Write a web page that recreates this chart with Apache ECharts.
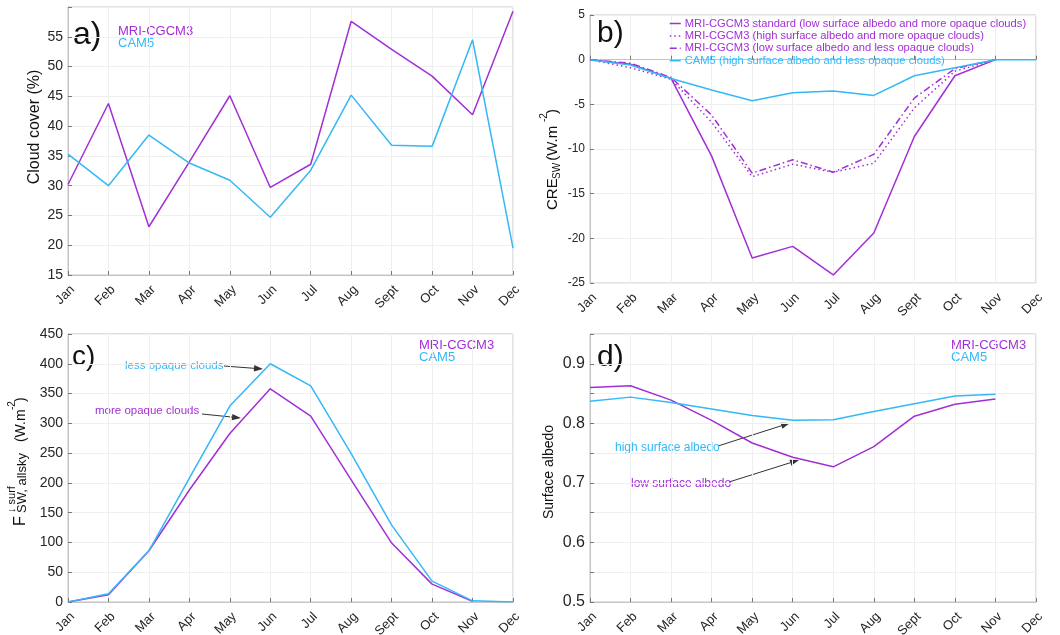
<!DOCTYPE html>
<html>
<head>
<meta charset="utf-8">
<script src="https://cdn.jsdelivr.net/npm/echarts@6/dist/echarts.min.js"></script>
<style>
html,body{margin:0;padding:0;background:#fff;}
#chart{width:1060px;height:635px;}
</style>
</head>
<body>
<div id="chart"></div>
<script>
const months = ['Jan','Feb','Mar','Apr','May','Jun','Jul','Aug','Sept','Oct','Nov','Dec'];

// a) Cloud cover (%)
const cloudMRI = [30.2, 43.8, 23.1, 34.0, 45.1, 29.7, 33.6, 57.6, 52.9, 48.4, 41.9, 59.3];
const cloudCAM = [35.3, 30.0, 38.5, 33.8, 30.9, 24.7, 32.6, 45.2, 36.8, 36.6, 54.5, 19.5];

// b) CRE_SW (W.m-2)
const creStd      = [0, -0.5, -2.1, -10.8, -22.2, -20.9, -24.1, -19.4, -8.6, -1.8, 0];
const creHighMore = [0, -0.9, -2.2, -7.0, -13.1, -11.7, -12.6, -11.6, -5.4, -1.3, 0];
const creLowLess  = [0, -0.4, -2.0, -6.2, -12.7, -11.2, -12.6, -10.6, -4.3, -1.0, 0];
const creCAM      = [0, -0.6, -2.1, -3.4, -4.6, -3.7, -3.5, -4.0, -1.8, -0.9, 0, 0];

// c) downward SW surface flux, all-sky (W.m-2)
const fluxMRI = [0, 12, 86, 188, 283, 358, 312, 205, 99, 30, 1];
const fluxCAM = [0, 14, 86, 208, 329, 400, 363, 249, 129, 35, 2, 0];

// d) Surface albedo
const albMRI = [0.860, 0.863, 0.839, 0.805, 0.767, 0.743, 0.727, 0.761, 0.812, 0.832, 0.841];
const albCAM = [0.837, 0.844, 0.835, 0.824, 0.813, 0.805, 0.806, 0.820, 0.833, 0.846, 0.849];

const legendB = [
  'MRI-CGCM3 standard (low surface albedo and more opaque clouds)',
  'MRI-CGCM3 (high surface albedo and more opaque clouds)',
  'MRI-CGCM3 (low surface albedo and less opaque clouds)',
  'CAM5 (high surface albedo and less opaque clouds)'
];

const PURPLE = '#A22FD6';
const CYAN = '#34B8F6';
const FONT = 'Liberation Sans, Arial, Helvetica, sans-serif';
const TXT = '#262626';
const FRAME = '#c4c4c4';
const GRIDC = '#efefef';

const chart = echarts.init(document.getElementById('chart'), null, {renderer: 'canvas'});

function gridBox(left, top, width, height) {
  return {left: left, top: top, width: width, height: height, show: true,
    borderColor: FRAME, borderWidth: 1, containLabel: false, outerBoundsMode: 'none'};
}
function xAx(gi, fs) {
  return {
    type: 'category', gridIndex: gi, data: months, boundaryGap: false,
    axisLine: {lineStyle: {color: FRAME}},
    axisTick: {show: true, inside: true, length: 4, lineStyle: {color: '#777'}},
    axisLabel: {rotate: 45, fontSize: fs, color: TXT, fontFamily: FONT, margin: 8,
      interval: 0, verticalAlign: 'top'},
    splitLine: {show: true, lineStyle: {color: GRIDC}}
  };
}
function yAx(gi, min, max, interval, fs, fmt) {
  return {
    type: 'value', gridIndex: gi, min: min, max: max, interval: interval,
    axisLine: {show: true, lineStyle: {color: FRAME}},
    axisTick: {show: true, inside: true, length: 4, lineStyle: {color: '#777'}},
    axisLabel: {fontSize: fs, color: TXT, fontFamily: FONT, margin: 5, formatter: fmt},
    splitLine: {show: true, lineStyle: {color: GRIDC}}
  };
}
function line(name, xi, data, color, type) {
  return {
    name: name, type: 'line', xAxisIndex: xi, yAxisIndex: xi, data: data,
    symbol: 'none', smooth: false, silent: true,
    lineStyle: {color: color, width: 1.5, type: type || 'solid'},
    itemStyle: {color: color}
  };
}
function txt(x, y, text, size, color, align, valign) {
  return {type: 'text', x: x, y: y, silent: true,
    style: {text: text, fill: color, font: size + 'px ' + FONT,
      textAlign: align || 'left', textVerticalAlign: valign || 'middle'}};
}
// annotation arrow (pointer from a text label to a curve)
function arrow(x1, y1, x2, y2) {
  const ang = Math.atan2(y2 - y1, x2 - x1);
  const L = 9, W = 3.2;
  const bx = x2 - L * Math.cos(ang), by = y2 - L * Math.sin(ang);
  const px = -Math.sin(ang) * W, py = Math.cos(ang) * W;
  return [
    {type: 'line', silent: true, shape: {x1: x1, y1: y1, x2: bx, y2: by},
      style: {stroke: '#333', lineWidth: 1}},
    {type: 'polygon', silent: true,
      shape: {points: [[x2, y2], [bx + px, by + py], [bx - px, by - py]]},
      style: {fill: '#333'}}
  ];
}

const option = {
  animation: false,
  backgroundColor: '#fff',
  textStyle: {fontFamily: FONT},
  grid: [
    gridBox(68, 7, 445, 268),
    gridBox(590, 15, 446, 268),
    gridBox(68, 334, 445, 268),
    gridBox(590, 334, 446, 268)
  ],
  xAxis: [xAx(0, 13), xAx(1, 13), xAx(2, 13), xAx(3, 13)],
  yAxis: [
    yAx(0, 15, 60, 5, 14, v => (v === 60 ? '' : String(v))),
    yAx(1, -25, 5, 5, 12, v => String(v)),
    yAx(2, 0, 450, 50, 14, v => String(v)),
    yAx(3, 0.5, 0.95, 0.05, 16, v => (Math.abs(Math.round(v * 100) % 10) === 0 ? v.toFixed(1) : ''))
  ],
  legend: [{
    show: true, orient: 'vertical', left: 664, top: 13,
    itemWidth: 11, itemHeight: 11, itemGap: 1.4, selectedMode: false,
    itemStyle: {opacity: 0},
    lineStyle: {width: 1.5},
    textStyle: {fontSize: 11.2, fontFamily: FONT, padding: [0, 0, 0, -1]},
    data: [
      {name: legendB[0], textStyle: {color: PURPLE}},
      {name: legendB[1], textStyle: {color: PURPLE}},
      {name: legendB[2], textStyle: {color: PURPLE}},
      {name: legendB[3], textStyle: {color: CYAN}}
    ]
  }],
  series: [
    line('a MRI-CGCM3', 0, cloudMRI, PURPLE),
    line('a CAM5', 0, cloudCAM, CYAN),
    line(legendB[0], 1, creStd, PURPLE, 'solid'),
    line(legendB[1], 1, creHighMore, PURPLE, [1.5, 3]),
    line(legendB[2], 1, creLowLess, PURPLE, [7, 3, 1.5, 3]),
    line(legendB[3], 1, creCAM, CYAN, 'solid'),
    line('c MRI-CGCM3', 2, fluxMRI, PURPLE),
    line('c CAM5', 2, fluxCAM, CYAN),
    line('d MRI-CGCM3', 3, albMRI, PURPLE),
    line('d CAM5', 3, albCAM, CYAN)
  ],
  graphic: [].concat(
    arrow(224, 366, 263, 369),
    arrow(202, 414, 241, 418),
    arrow(718, 446, 790, 423),
    arrow(729, 482, 799, 460),
    [
    // panel letters
    txt(73, 35, 'a)', 32, '#111'),
    txt(597, 34, 'b)', 30, '#111'),
    txt(72, 357, 'c)', 28, '#111'),
    txt(597, 358, 'd)', 30, '#111'),
    // text legends
    txt(118, 31, 'MRI-CGCM3', 13, PURPLE),
    txt(118, 43, 'CAM5', 13, CYAN),
    txt(419, 345, 'MRI-CGCM3', 13, PURPLE),
    txt(419, 357, 'CAM5', 13, CYAN),
    txt(951, 345, 'MRI-CGCM3', 13, PURPLE),
    txt(951, 357, 'CAM5', 13, CYAN),
    // annotations
    txt(125, 366, 'less opaque clouds', 11.5, CYAN),
    txt(95, 411, 'more opaque clouds', 11.5, PURPLE),
    txt(615, 448, 'high surface albedo', 12, CYAN),
    txt(631, 484, 'low surface albedo', 12, PURPLE),
    // y-axis titles
    {type: 'text', x: 35, y: 127, rotation: Math.PI / 2, silent: true,
      style: {text: 'Cloud cover (%)', fill: '#111', font: '16px ' + FONT, textAlign: 'center', textVerticalAlign: 'middle'}},
    {type: 'text', x: 549, y: 472, rotation: Math.PI / 2, silent: true,
      style: {text: 'Surface albedo', fill: '#111', font: '14px ' + FONT, textAlign: 'center', textVerticalAlign: 'middle'}},
    {type: 'group', x: 558, y: 210, rotation: Math.PI / 2, silent: true, children: [
      txt(0, -5.5, 'CRE', 15, '#111'),
      txt(31, -1, 'SW', 10, '#111'),
      txt(45, -5.5, ' (W.m', 15, '#111'),
      txt(88, -14, '-2', 10, '#111'),
      txt(96, -5.5, ')', 15, '#111')
    ]},
    {type: 'group', x: 26, y: 526, rotation: Math.PI / 2, silent: true, children: [
      txt(0, -5.5, 'F', 16, '#111'),
      txt(13, -14.5, '\u2193 surf', 11, '#111'),
      txt(13, -3.5, 'SW, allsky', 13, '#111'),
      txt(80, -5, ' (W.m', 14, '#111'),
      txt(116, -13.5, '-2', 10, '#111'),
      txt(124, -5, ')', 14, '#111')
    ]}
    ]
  )
};
chart.setOption(option);
</script>
</body>
</html>
